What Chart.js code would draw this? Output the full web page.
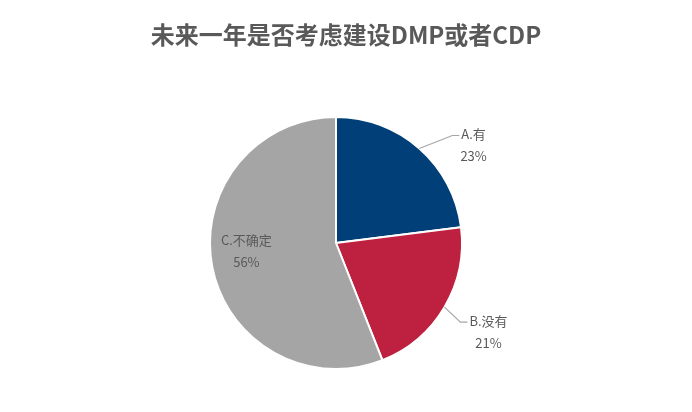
<!DOCTYPE html>
<html>
<head>
<meta charset="utf-8">
<script src="https://cdn.jsdelivr.net/npm/chart.js@4"></script>
<style>
  html, body { margin: 0; padding: 0; background: #fff; }
  #wrap { width: 692px; height: 412px; }
</style>
</head>
<body>
<div id="wrap"><canvas id="pie-chart" width="692" height="412"></canvas></div>
<script>
let chartTitle = '未来一年是否考虑建设DMP或者CDP';
let categories = ['A.有', 'B.没有', 'C.不确定'];
let shares = [23, 21, 56];
let sliceColors = ['#003f78', '#be2140', '#a5a5a5'];

// title + Excel style labels (two outside with leader lines, one inside)
let labelPlugin = {
  id: 'pieLabels',
  afterDraw(chart) {
    let ctx = chart.ctx;
    ctx.save();
    ctx.fillStyle = '#595959';
    ctx.font = 'bold 24px "Noto Sans CJK SC", sans-serif';
    ctx.textAlign = 'center';
    ctx.textBaseline = 'middle';
    ctx.fillText(chartTitle, 346, 35);

    let meta = chart.getDatasetMeta(0);
    ctx.font = '13px "Noto Sans CJK SC", sans-serif';
    meta.data.forEach((arc, i) => {
      let mid = (arc.startAngle + arc.endAngle) / 2;
      let r = arc.outerRadius;
      let pct = shares[i] + '%';
      if (i == 2) {
        let px = arc.x + Math.cos(mid) * r * 0.7 - 3;
        let py = arc.y + Math.sin(mid) * r * 0.7 - 8;
        ctx.textAlign = 'center';
        ctx.fillText(categories[i], px, py - 11);
        ctx.fillText(pct, px, py + 11);
        return;
      }
      let ex = arc.x + Math.cos(mid) * r;
      let ey = arc.y + Math.sin(mid) * r;
      let bend = i == 0 ? [33, -13] : [16, 15];
      let bx = ex + bend[0], by = ey + bend[1];
      ctx.strokeStyle = '#a6a6a6';
      ctx.lineWidth = 1.2;
      ctx.beginPath();
      ctx.moveTo(ex, ey);
      ctx.lineTo(bx, by);
      ctx.lineTo(bx + 7, by);
      ctx.stroke();
      ctx.textAlign = 'left';
      ctx.fillText(categories[i], bx + 9, by - 1);
      let w = ctx.measureText(categories[i]).width;
      ctx.textAlign = 'center';
      ctx.fillText(pct, bx + 9 + w / 2, by + 21);
    });
    ctx.restore();
  }
};

new Chart(document.getElementById('pie-chart').getContext('2d'), {
  type: 'pie',
  data: {
    labels: categories,
    datasets: [{
      data: shares,
      backgroundColor: sliceColors,
      borderColor: '#ffffff',
      borderWidth: 2
    }]
  },
  options: {
    responsive: false,
    animation: false,
    layout: { padding: { left: 209, right: 229, top: 116, bottom: 42 } },
    plugins: {
      legend: { display: false },
      tooltip: { enabled: false }
    }
  },
  plugins: [labelPlugin]
});
</script>
</body>
</html>
